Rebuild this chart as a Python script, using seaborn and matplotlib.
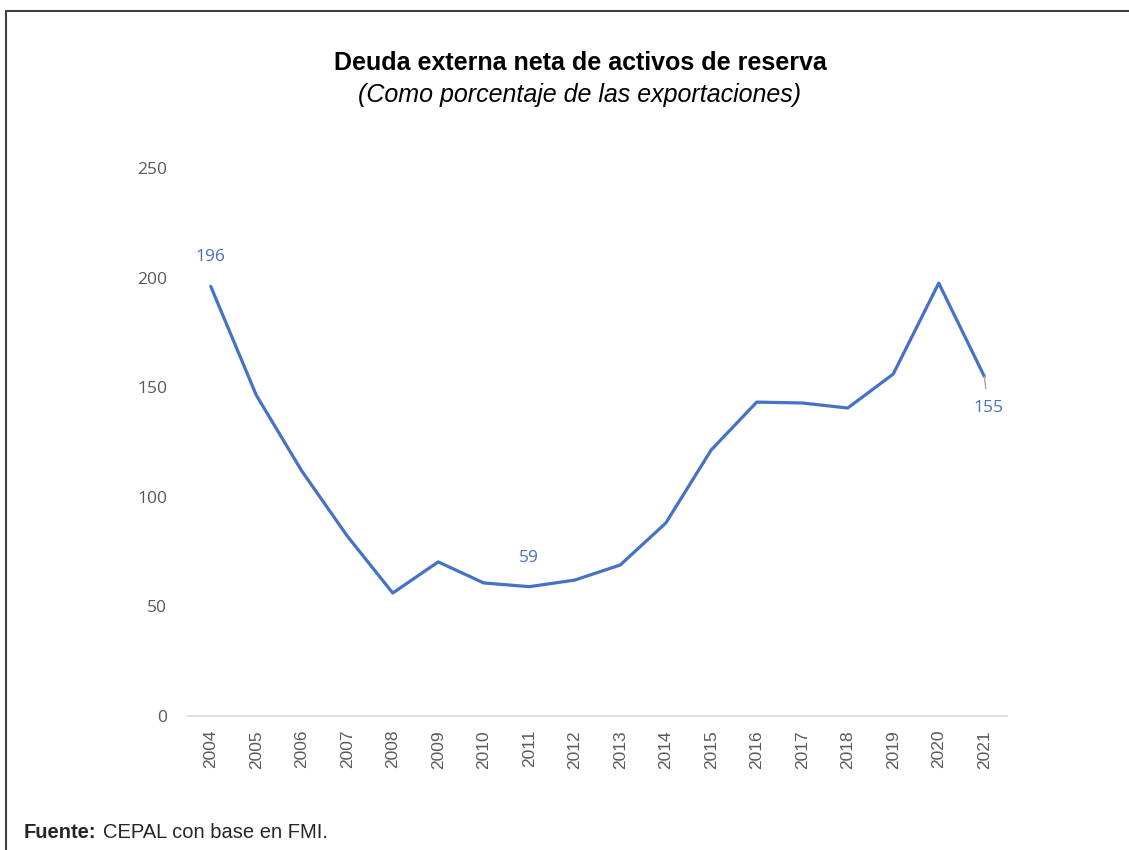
import matplotlib
matplotlib.use("Agg")
import matplotlib.pyplot as plt
from matplotlib.lines import Line2D
import seaborn as sns
import pandas as pd

years = [str(y) for y in range(2004, 2022)]
values = [196, 146.4, 111.8, 82.1, 56.1, 70.3, 60.7, 59, 62, 68.9, 88, 121.4, 143.2, 142.8, 140.5, 156, 197.5, 155]
labeled = {"2004": "196", "2011": "59", "2021": "155"}
yticks = [0, 50, 100, 150, 200, 250]

title = "Deuda externa neta de activos de reserva"
subtitle = "(Como porcentaje de las exportaciones)"

sns.set_theme(style="white")
plt.rcParams['font.family'] = ['Liberation Sans', 'DejaVu Sans']

blue = "#4472C4"
gray = "#595959"

fig = plt.figure(figsize=(11.29, 8.5), dpi=100)
ax = fig.add_axes([188/1129, 1-716/850, (1007-188)/1129, (716-168)/850])

df = pd.DataFrame({"year": years, "value": values})
sns.lineplot(data=df, x="year", y="value", ax=ax, color=blue, linewidth=2.3, sort=False)

ax.set_xlim(-0.5, len(years) - 0.5)
ax.set_ylim(0, 250)
ax.set_yticks(yticks)
ax.set_yticklabels([str(t) for t in yticks], fontsize=12.5, color=gray, family=['Open Sans', 'DejaVu Sans'])
ax.tick_params(axis='x', labelrotation=90, labelsize=12.5, colors=gray, length=0, pad=10)
ax.tick_params(axis='y', length=0, pad=15)
ax.set_xlabel("")
ax.set_ylabel("")
for s in ["top", "right", "left"]:
    ax.spines[s].set_visible(False)
ax.spines["bottom"].set_color("#D9D9D9")
ax.spines["bottom"].set_linewidth(1.2)
ax.grid(False)

lbl_font = ['Open Sans', 'DejaVu Sans']
for i, (y, v) in enumerate(zip(years, values)):
    if y in labeled:
        if y == "2021":
            ax.annotate(labeled[y], xy=(i, v), xytext=(3, -23), textcoords="offset points",
                        ha="center", va="center", color=blue, fontsize=12.5, family=lbl_font,
                        arrowprops=dict(arrowstyle="-", color="#A6A6A6", lw=1,
                                        shrinkA=6, shrinkB=0))
        else:
            ax.annotate(labeled[y], xy=(i, v), xytext=(0, 21), textcoords="offset points",
                        ha="center", va="center", color=blue, fontsize=12.5, family=lbl_font)

fig.text(580/1129, 1-63/850, title, ha="center", va="center", fontsize=18, fontweight="bold", color="black")
fig.text(580/1129, 1-95/850, subtitle, ha="center", va="center", fontsize=18, style="italic", color="black")

fig.text(24/1129, 1-838/850, "Fuente:", ha="left", va="baseline", fontsize=14.5, fontweight="bold", color="#262626")
fig.text(103/1129, 1-838/850, "CEPAL con base en FMI.", ha="left", va="baseline", fontsize=14.5, color="#262626")

fig.add_artist(Line2D([6/1129, 1.0], [1-11/850, 1-11/850], color="#404040", lw=1.5, transform=fig.transFigure))
fig.add_artist(Line2D([6/1129, 6/1129], [0, 1-11/850], color="#404040", lw=1.5, transform=fig.transFigure))

fig.savefig("out.png", dpi=100)
